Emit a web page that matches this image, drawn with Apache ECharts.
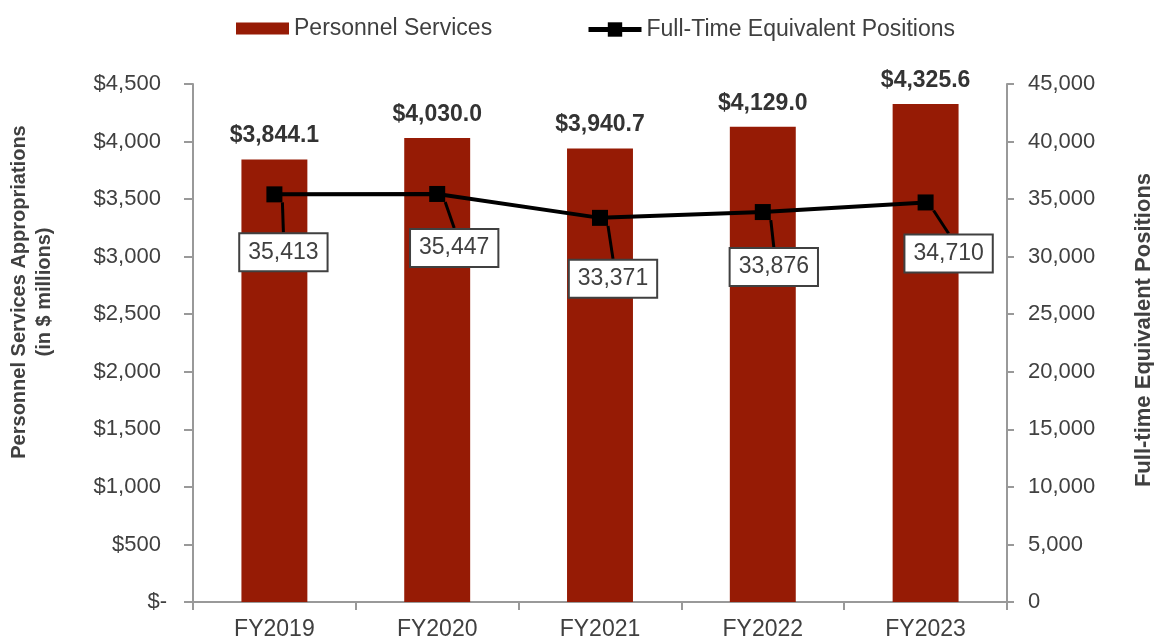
<!DOCTYPE html>
<html>
<head>
<meta charset="utf-8">
<script src="https://cdn.jsdelivr.net/npm/echarts@6/dist/echarts.min.js"></script>
<style>
  html, body { margin: 0; padding: 0; background: #fff; }
  #chart { width: 1154px; height: 643px; }
</style>
</head>
<body>
<div id="chart"></div>
<script>
const years = ["FY2019", "FY2020", "FY2021", "FY2022", "FY2023"];
const personnelServices = [3844.1, 4030.0, 3940.7, 4129.0, 4325.6];
const ftePositions = [35413, 35447, 33371, 33876, 34710];
// where each FTE label box sits relative to its point
const labelShift = [[9, 58], [17, 54], [13, 61], [11, 55], [23, 51]];

const fmt = (v, d) =>
  v.toLocaleString("en-US", { minimumFractionDigits: d, maximumFractionDigits: d });

const chartDom = document.getElementById("chart");
const myChart = echarts.init(chartDom);
const textColor = "#404040";
const axisGray = "#999999";

const option = {
  animation: false,
  textStyle: { fontFamily: "Liberation Sans, Arial, sans-serif" },
  legend: [
    {
      top: 12,
      left: 231,
      itemWidth: 53,
      itemHeight: 12,
      textStyle: { fontSize: 23, color: textColor },
      data: [{ name: "Personnel Services", icon: "rect" }],
    },
    {
      top: 13,
      left: 581,
      itemWidth: 53,
      itemHeight: 18,
      textStyle: { fontSize: 23, color: textColor },
      data: [
        {
          name: "Full-Time Equivalent Positions",
          lineStyle: { width: 5, color: "#000" },
          itemStyle: { color: "#000" },
        },
      ],
    },
  ],
  grid: { left: 193, right: 147, top: 84, bottom: 41, outerBoundsMode: "none" },
  xAxis: {
    type: "category",
    data: years,
    axisLine: { lineStyle: { color: axisGray, width: 2 } },
    axisTick: { show: true, length: 8, inside: false, lineStyle: { color: axisGray, width: 2 } },
    axisLabel: { fontSize: 23, color: textColor, margin: 16 },
  },
  yAxis: [
    {
      type: "value",
      min: 0,
      max: 4500,
      interval: 500,
      name: "Personnel Services Appropriations\n(in $ millions)",
      nameLocation: "middle",
      nameGap: 136,
      nameTextStyle: {
        fontSize: 20,
        fontWeight: "bold",
        color: textColor,
        lineHeight: 25,
        padding: [0, 0, 0, 102],
      },
      splitLine: { show: false },
      axisLine: { show: true, lineStyle: { color: axisGray, width: 2 } },
      axisTick: { show: true, length: 9, lineStyle: { color: axisGray, width: 2 } },
      axisLabel: {
        fontSize: 22,
        color: textColor,
        margin: 26,
        formatter: (v) => (v === 0 ? "$-" : "$" + fmt(v, 0) + " "),
      },
    },
    {
      type: "value",
      min: 0,
      max: 45000,
      interval: 5000,
      position: "right",
      name: "Full-time Equivalent Positions",
      nameLocation: "middle",
      nameGap: 126,
      nameRotate: 90,
      nameTextStyle: {
        fontSize: 22,
        fontWeight: "bold",
        color: textColor,
        padding: [0, 0, 0, 26],
      },
      splitLine: { show: false },
      axisLine: { show: true, lineStyle: { color: axisGray, width: 2 } },
      axisTick: { show: true, length: 7, lineStyle: { color: axisGray, width: 2 } },
      axisLabel: {
        fontSize: 22,
        color: textColor,
        margin: 21,
        formatter: (v) => fmt(v, 0),
      },
    },
  ],
  series: [
    {
      name: "Personnel Services",
      type: "bar",
      yAxisIndex: 0,
      barWidth: "40.5%",
      itemStyle: { color: "#961B05" },
      label: {
        show: true,
        position: "top",
        distance: 12,
        fontSize: 23,
        fontWeight: "bold",
        color: "#333333",
        formatter: (p) => "$" + fmt(p.value, 1),
      },
      data: personnelServices,
    },
    {
      name: "Full-Time Equivalent Positions",
      type: "line",
      yAxisIndex: 1,
      symbol: "rect",
      symbolSize: 16,
      lineStyle: { color: "#000", width: 4 },
      itemStyle: { color: "#000" },
      label: {
        show: true,
        position: "inside",
        fontSize: 23,
        lineHeight: 24,
        color: textColor,
        backgroundColor: "#fff",
        borderColor: "#404040",
        borderWidth: 2,
        padding: [7, 8, 5, 8],
        formatter: (p) => fmt(p.value, 0),
      },
      labelLine: { show: true, lineStyle: { color: "#000", width: 3 } },
      labelLayout: (p) => ({ dx: labelShift[p.dataIndex][0], dy: labelShift[p.dataIndex][1] }),
      data: ftePositions,
      z: 5,
    },
  ],
};

option && myChart.setOption(option);
</script>
</body>
</html>
